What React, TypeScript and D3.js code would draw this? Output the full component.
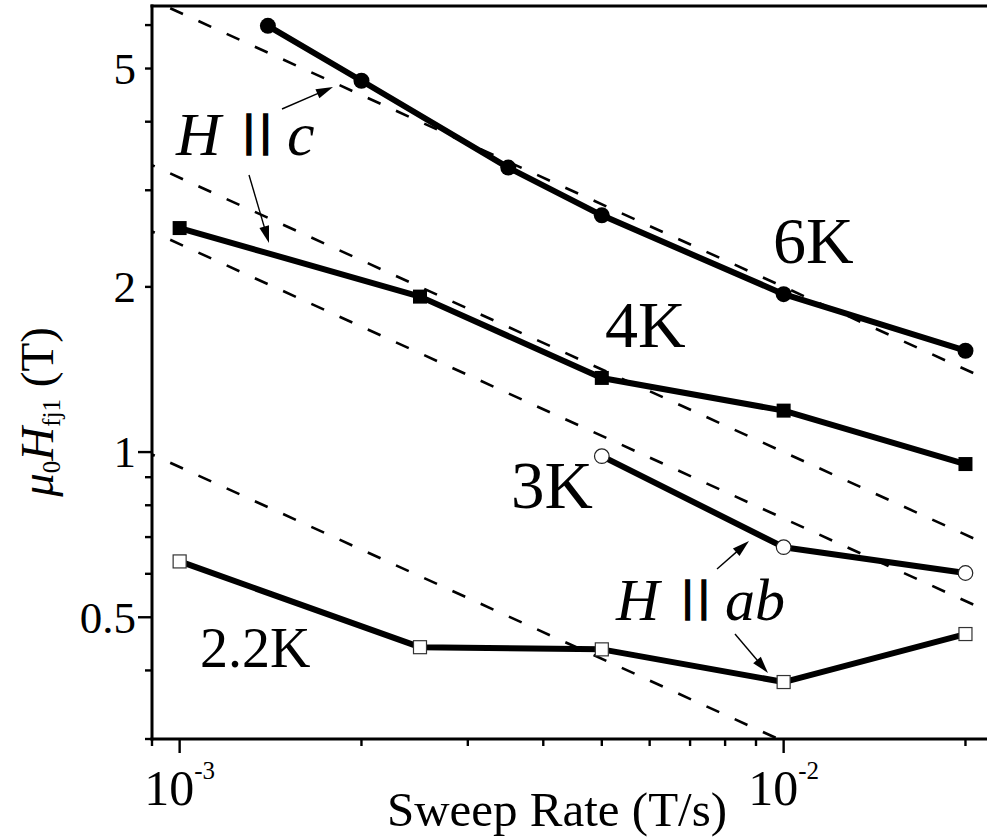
import React from "react";
import * as d3 from "d3";

// ---- data ----
const rates6K = [0.0014, 0.002, 0.0035, 0.005, 0.01, 0.02];
const field6K = [5.98, 4.75, 3.3, 2.7, 1.94, 1.53];
const rates4K = [0.001, 0.0025, 0.005, 0.01, 0.02];
const field4K = [2.56, 1.92, 1.365, 1.19, 0.951];
const rates3K = [0.005, 0.01, 0.02];
const field3K = [0.983, 0.671, 0.602];
const rates22K = [0.001, 0.0025, 0.005, 0.01, 0.02];
const field22K = [0.632, 0.441, 0.437, 0.381, 0.466];

// guide lines  H = C / sqrt(rate)
const guideCoefs = [0.2, 0.1, 0.0757, 0.0297];
const guideRates = [9e-4, 2.5e-2];

const xMajorTicks = [0.001, 0.01];
const xMajorExp = ["-3", "-2"];
const xMinorTicks = [0.0009, 0.002, 0.003, 0.004, 0.005, 0.006, 0.007, 0.008, 0.009, 0.02];
const yLongTicks = [0.5, 1];
const yShortTicks = [0.3, 0.4, 0.6, 0.7, 0.8, 0.9, 2, 3, 4, 5, 6];
const yLabelTicks = [0.5, 1, 2, 5];
const yLabelText = ["0.5", "1", "2", "5"];

const W = 987;
const H = 837;
const L = 152;
const T = 6;
const B = 739;
const R = 1024;

const serif = "'Liberation Serif', 'Times New Roman', serif";
const sans = "'Liberation Sans', Arial, sans-serif";

function Arrow({ x1, y1, x2, y2 }: { x1: number; y1: number; x2: number; y2: number }) {
  const dx = x2 - x1;
  const dy = y2 - y1;
  const len = Math.hypot(dx, dy);
  const ux = dx / len;
  const uy = dy / len;
  const hl = 17;
  const hw = 5;
  const bx = x2 - ux * hl;
  const by = y2 - uy * hl;
  const pts = [
    [x2, y2],
    [bx - uy * hw, by + ux * hw],
    [bx + uy * hw, by - ux * hw],
  ];
  return (
    <g>
      <line x1={x1} y1={y1} x2={bx + ux * 2} y2={by + uy * 2} stroke="#000" strokeWidth={1.4} />
      <polygon points={pts.map((p) => p.join(",")).join(" ")} fill="#000" />
    </g>
  );
}

export default function App() {
  const x = d3.scaleLog().domain([9e-4, 2.5e-2]).range([L, R]);
  const y = d3.scaleLog().domain([0.3, 6.5]).range([B, T]);

  const line = d3
    .line<[number, number]>()
    .x((d) => x(d[0]))
    .y((d) => y(d[1]));

  const series = [
    { r: rates6K, h: field6K, kind: "fcircle" },
    { r: rates4K, h: field4K, kind: "fsquare" },
    { r: rates3K, h: field3K, kind: "ocircle" },
    { r: rates22K, h: field22K, kind: "osquare" },
  ];

  const dash = "14 17";

  return (
    <svg
      width={W}
      height={H}
      style={{ position: "absolute", left: 0, top: 0, background: "#fff" }}
      fontFamily={serif}
    >
      <defs>
        <clipPath id="plot">
          <rect x={L} y={T} width={R - L} height={B - T} />
        </clipPath>
      </defs>
      <rect x={0} y={0} width={W} height={H} fill="#fff" />

      {/* guide lines */}
      <g clipPath="url(#plot)">
        {guideCoefs.map((c, i) => {
          const pts = guideRates.map((r) => [r, c / Math.sqrt(r)] as [number, number]);
          return (
            <path
              key={i}
              d={line(pts) || ""}
              fill="none"
              stroke="#000"
              strokeWidth={2.6}
              strokeDasharray={dash}
              strokeDashoffset={11}
            />
          );
        })}
      </g>

      {/* data lines */}
      {series.map((s, i) => (
        <path
          key={i}
          d={line(s.r.map((r, j) => [r, s.h[j]] as [number, number])) || ""}
          fill="none"
          stroke="#000"
          strokeWidth={6}
          strokeLinejoin="round"
        />
      ))}

      {/* markers */}
      {series.map((s, i) =>
        s.r.map((r, j) => {
          const cx = x(r);
          const cy = y(s.h[j]);
          if (s.kind === "fcircle") return <circle key={`${i}-${j}`} cx={cx} cy={cy} r={8} fill="#000" />;
          if (s.kind === "fsquare")
            return <rect key={`${i}-${j}`} x={cx - 7} y={cy - 7} width={14} height={14} fill="#000" />;
          if (s.kind === "ocircle")
            return <circle key={`${i}-${j}`} cx={cx} cy={cy} r={7.3} fill="#fff" stroke="#222" strokeWidth={1.2} />;
          return (
            <rect
              key={`${i}-${j}`}
              x={cx - 6.5}
              y={cy - 6.5}
              width={13}
              height={13}
              fill="#fff"
              stroke="#333"
              strokeWidth={1.2}
            />
          );
        })
      )}

      {/* axes */}
      <g stroke="#000" strokeLinecap="square">
        <line x1={L} y1={T} x2={R} y2={T} strokeWidth={3} />
        <line x1={L} y1={T} x2={L} y2={B} strokeWidth={3} />
        <line x1={L} y1={B} x2={R} y2={B} strokeWidth={3} />
        {xMajorTicks.map((t) => (
          <line key={"xM" + t} x1={x(t)} x2={x(t)} y1={B} y2={B + 14} strokeWidth={2.4} strokeLinecap="butt" />
        ))}
        {xMinorTicks.map((t) => (
          <line key={"xm" + t} x1={x(t)} x2={x(t)} y1={B} y2={B + 7} strokeWidth={2.4} strokeLinecap="butt" />
        ))}
        {yLongTicks.map((t) => (
          <line key={"yM" + t} x1={L - 14} x2={L} y1={y(t)} y2={y(t)} strokeWidth={2.4} strokeLinecap="butt" />
        ))}
        {yShortTicks.map((t) => (
          <line key={"ym" + t} x1={L - 7} x2={L} y1={y(t)} y2={y(t)} strokeWidth={2.4} strokeLinecap="butt" />
        ))}
      </g>

      {/* tick labels */}
      {yLabelTicks.map((t, i) => (
        <text key={"yl" + t} x={136} y={y(t)} dy="0.34em" fontSize={45} textAnchor="end">
          {yLabelText[i]}
        </text>
      ))}
      {xMajorTicks.map((t, i) => (
        <text key={"xl" + t} x={x(t)} y={805} fontSize={50} textAnchor="middle">
          10
          <tspan fontSize={25} dy={-26}>
            {xMajorExp[i]}
          </tspan>
        </text>
      ))}

      {/* axis titles */}
      <text x={557} y={826} fontSize={49} textAnchor="middle">
        Sweep Rate (T/s)
      </text>
      <text transform="translate(53,412) rotate(-90)" fontSize={47} textAnchor="middle">
        <tspan fontStyle="italic">μ</tspan>
        <tspan fontSize={25} dy={7}>
          0
        </tspan>
        <tspan fontStyle="italic" dy={-7}>
          H
        </tspan>
        <tspan fontSize={25} dy={7}>
          fj1
        </tspan>
        <tspan dy={-7}> (T)</tspan>
      </text>

      {/* temperature labels */}
      <text x={773} y={263} fontSize={66}>
        6K
      </text>
      <text x={605} y={347} fontSize={66}>
        4K
      </text>
      <text x={511} y={508} fontSize={67}>
        3K
      </text>
      <text x={200} y={667} fontSize={56}>
        2.2K
      </text>

      {/* orientation labels */}
      <text y={155} fontSize={62}>
        <tspan x={176} fontStyle="italic">
          H
        </tspan>
        <tspan
          x={243}
          dy={-9.5}
          fontFamily={sans}
          fontSize={45}
          stroke="#000"
          strokeWidth={1.5}
          letterSpacing={5}
        >
          ||
        </tspan>
        <tspan x={287} dy={9.5} fontStyle="italic">
          c
        </tspan>
      </text>
      <text y={620} fontSize={60}>
        <tspan x={616} fontStyle="italic">
          H
        </tspan>
        <tspan
          x={682}
          dy={-9}
          fontFamily={sans}
          fontSize={43}
          stroke="#000"
          strokeWidth={1.5}
          letterSpacing={5}
        >
          ||
        </tspan>
        <tspan x={725} dy={9} fontStyle="italic">
          ab
        </tspan>
      </text>

      <Arrow x1={282} y1={109} x2={333} y2={87} />
      <Arrow x1={249} y1={175} x2={269} y2={243} />
      <Arrow x1={717} y1={569} x2={749} y2={541} />
      <Arrow x1={735} y1={634} x2={768} y2={673} />
    </svg>
  );
}
